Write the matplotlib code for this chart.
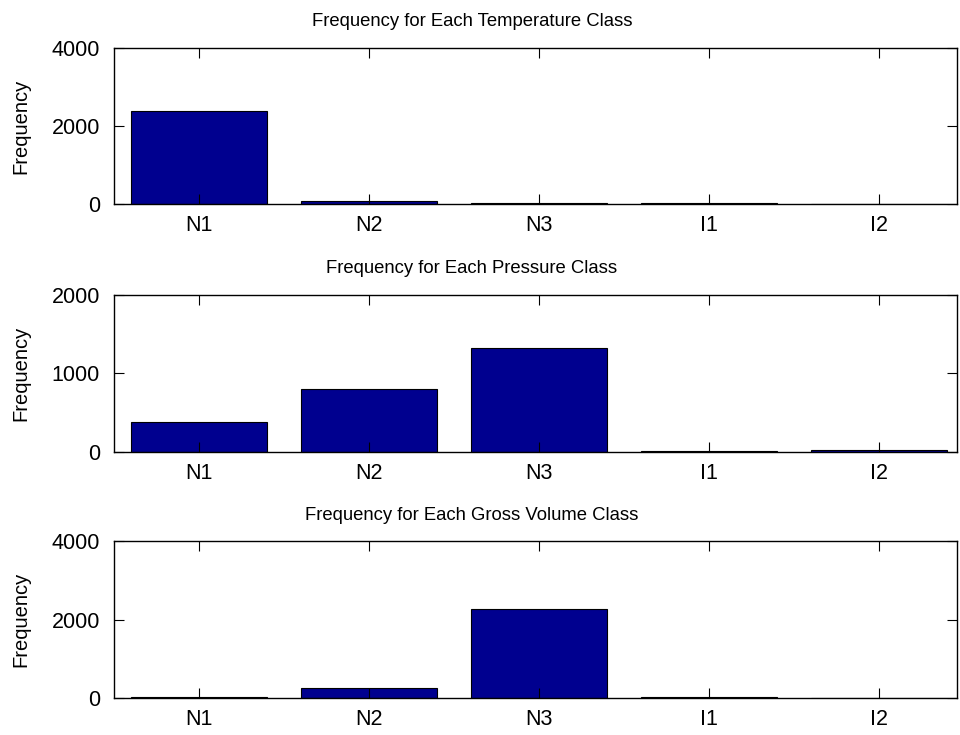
import matplotlib
matplotlib.use("Agg")
import matplotlib.pyplot as plt

plt.rcParams['font.family'] = ['Liberation Sans', 'DejaVu Sans']

categories = ["N1", "N2", "N3", "I1", "I2"]
temperature_counts = [2390, 90, 35, 35, 4]
pressure_counts = [375, 805, 1327, 3, 22]
gross_volume_counts = [40, 255, 2265, 40, 3]

titles = [
    "Frequency for Each Temperature Class",
    "Frequency for Each Pressure Class",
    "Frequency for Each Gross Volume Class",
]
series = [temperature_counts, pressure_counts, gross_volume_counts]
y_limits = [(0, 4000), (0, 2000), (0, 4000)]
y_ticks = [[0, 2000, 4000], [0, 1000, 2000], [0, 2000, 4000]]

fig = plt.figure(figsize=(9.6, 7.35), dpi=100)

left, width, height = 0.11875, 0.878, 0.2133
bottoms = [0.722, 0.3854, 0.05]

bar_color = (0, 0, 0.5625)
x = list(range(1, len(categories) + 1))

for b, vals, title, ylim, yt in zip(bottoms, series, titles, y_limits, y_ticks):
    ax = fig.add_axes([left, b, width, height])
    ax.bar(x, vals, width=0.8, color=bar_color, edgecolor='black', linewidth=0.8)
    ax.set_xlim(0.5, 5.46)
    ax.set_ylim(*ylim)
    ax.set_xticks(x)
    ax.set_xticklabels(categories)
    ax.set_yticks(yt)
    ax.tick_params(direction='in', length=7, width=0.8, top=True, right=True,
                   labelsize=15.5)
    ax.tick_params(axis='y', pad=10)
    ax.tick_params(axis='x', pad=8)
    ax.text(0.4247, 1.0 + 26 / 156.8, title, transform=ax.transAxes,
            ha='center', va='center', fontsize=13.3)
    ax.set_ylabel("Frequency", fontsize=14.5)
    ax.yaxis.set_label_coords(-0.0996, 0.5)
    for s in ax.spines.values():
        s.set_linewidth(1.0)

fig.savefig("out.png", dpi=100)
